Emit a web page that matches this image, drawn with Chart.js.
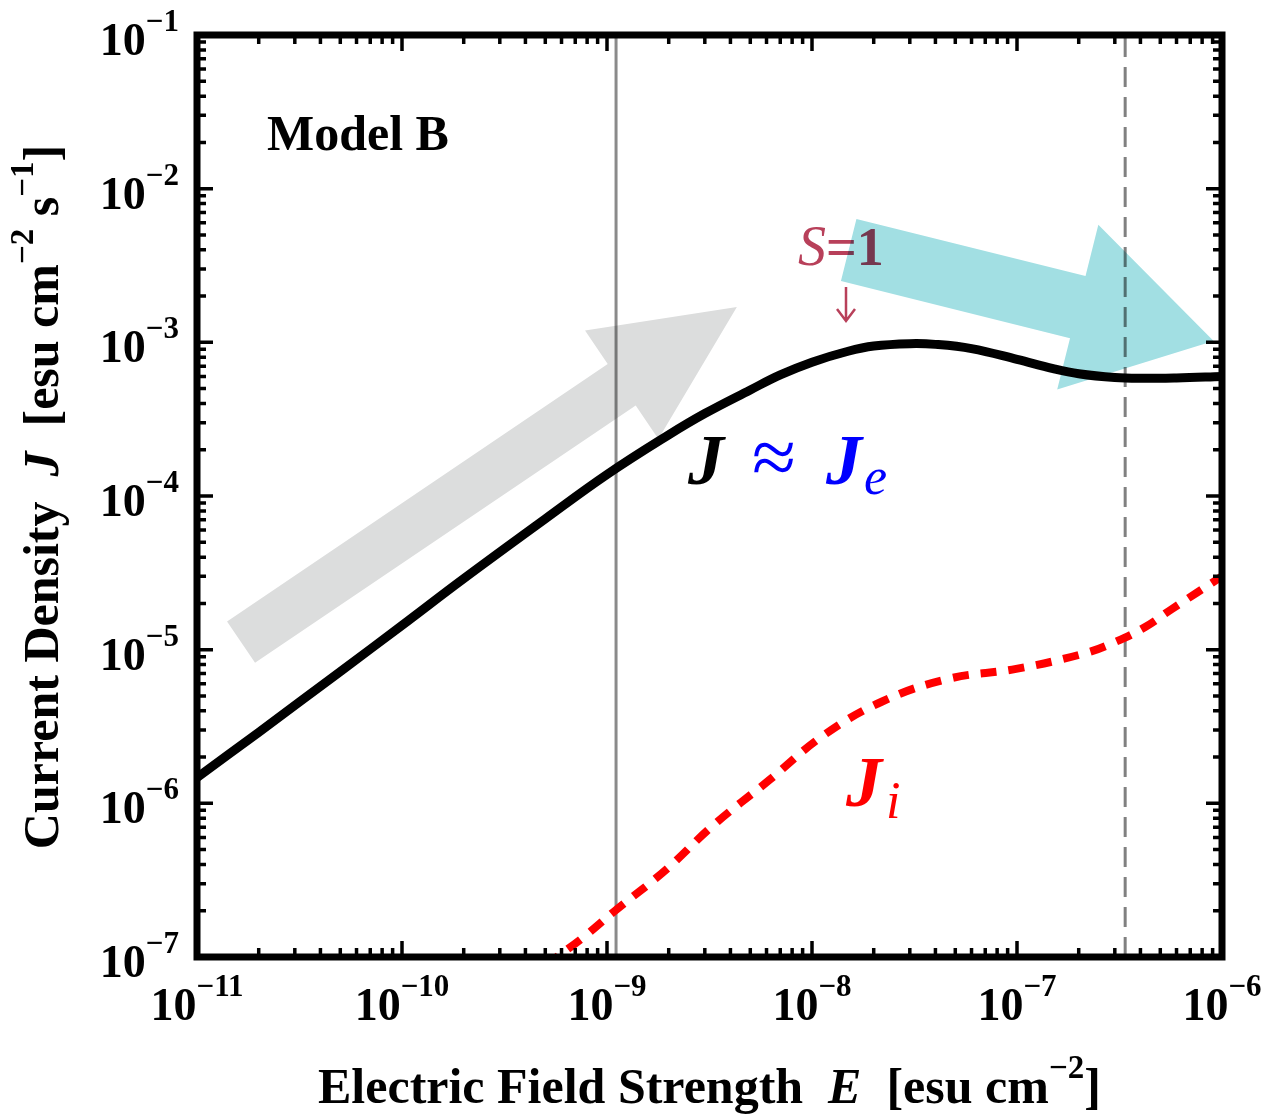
<!DOCTYPE html>
<html>
<head>
<meta charset="utf-8">
<script src="https://cdn.jsdelivr.net/npm/chart.js@4.4.1/dist/chart.umd.min.js"></script>
<style>
  html, body { margin: 0; padding: 0; background: #fff; }
  #wrap { width: 1272px; height: 1115px; }
</style>
</head>
<body>
<div id="wrap"><canvas id="current-chart" width="1272" height="1115"></canvas></div>
<script>
// Electric field strength samples and total current density J
const fieldE = [1e-11, 2e-11, 5e-11, 1e-10, 2e-10, 5e-10, 1e-9, 2e-9, 3e-9, 5e-9, 7e-9,
                1e-8, 1.5e-8, 2e-8, 3e-8, 4e-8, 6e-8, 1e-7, 1.5e-7, 2e-7, 3e-7, 4e-7, 6e-7, 1e-6];
const currentJ = [1.47e-6, 2.9e-6, 7.2e-6, 1.44e-5, 2.9e-5, 7.1e-5, 1.38e-4, 2.5e-4, 3.44e-4, 4.9e-4, 6.14e-4,
                  7.43e-4, 8.75e-4, 9.46e-4, 9.8e-4, 9.7e-4, 9.1e-4, 7.75e-4, 6.75e-4, 6.25e-4, 5.9e-4, 5.83e-4, 5.87e-4, 6.0e-4];

// Ion current J_i
const fieldEi = [5e-10, 7.7e-10, 1.08e-9, 1.94e-9, 3.3e-9, 6.2e-9, 1.13e-8, 2.2e-8, 4.6e-8,
                 9.9e-8, 2.1e-7, 3.0e-7, 4.2e-7, 5.7e-7, 1e-6];
const currentJi = [8.8e-8, 1.35e-7, 1.97e-7, 3.7e-7, 7.2e-7, 1.42e-6, 2.75e-6, 4.6e-6, 6.45e-6,
                   7.5e-6, 9.4e-6, 1.12e-5, 1.4e-5, 1.84e-5, 3.0e-5];

// Vertical marker lines
const solidMarkE = 1.107e-9;
const dashedMarkE = 3.37e-7;

// Axis ranges / tick exponents
const xTickExps = [-11, -10, -9, -8, -7, -6];
const yTickExps = [-7, -6, -5, -4, -3, -2, -1];

// Annotation arrows (data space endpoints)
const grayArrow = { from: [1.64e-11, 1.12e-5], to: [4.3e-9, 1.7e-3] };
const cyanArrow = { from: [1.51e-8, 3.99e-3], to: [9.1e-7, 1.02e-3] };

const SERIF = '"Liberation Serif", "Times New Roman", serif';

function toPoints(xs, ys) {
    return xs.map((x, i) => ({ x: x, y: ys[i] }));
}

function vLine(xv) {
    return [{ x: xv, y: Math.pow(10, yTickExps[0]) }, { x: xv, y: Math.pow(10, yTickExps[yTickExps.length - 1]) }];
}

function drawArrow(ctx, x0, y0, x1, y1, w, hw, hl, color) {
    const len = Math.hypot(x1 - x0, y1 - y0);
    const ux = (x1 - x0) / len, uy = (y1 - y0) / len;
    const nx = -uy, ny = ux;
    const bx = x1 - ux * hl, by = y1 - uy * hl;
    ctx.save();
    ctx.globalCompositeOperation = "multiply";
    ctx.fillStyle = color;
    ctx.beginPath();
    ctx.moveTo(x0 + nx * w / 2, y0 + ny * w / 2);
    ctx.lineTo(bx + nx * w / 2, by + ny * w / 2);
    ctx.lineTo(bx + nx * hw / 2, by + ny * hw / 2);
    ctx.lineTo(x1, y1);
    ctx.lineTo(bx - nx * hw / 2, by - ny * hw / 2);
    ctx.lineTo(bx - nx * w / 2, by - ny * w / 2);
    ctx.lineTo(x0 - nx * w / 2, y0 - ny * w / 2);
    ctx.closePath();
    ctx.fill();
    ctx.restore();
}

// "10" with a superscript exponent
function drawPow(ctx, exp, x, y, align) {
    const base = "10";
    const sup = "\u2212" + Math.abs(exp);
    ctx.font = "bold 46px " + SERIF;
    const wb = ctx.measureText(base).width;
    ctx.font = "bold 31px " + SERIF;
    const ws = ctx.measureText(sup).width;
    const x0 = align === "center" ? x - (wb + ws) / 2 : x - (wb + ws);
    ctx.textAlign = "left";
    ctx.textBaseline = "alphabetic";
    ctx.font = "bold 46px " + SERIF;
    ctx.fillText(base, x0, y);
    ctx.font = "bold 31px " + SERIF;
    ctx.fillText(sup, x0 + wb, y - 24);
}

// Draw a run of text pieces [text, font, dy, color]
function drawRuns(ctx, runs, x, y) {
    let cx = x;
    runs.forEach(r => {
        ctx.font = r[1];
        ctx.fillStyle = r[3] || "#000";
        ctx.fillText(r[0], cx, y + (r[2] || 0));
        cx += ctx.measureText(r[0]).width;
    });
    return cx - x;
}

function measureRuns(ctx, runs) {
    let w = 0;
    runs.forEach(r => { ctx.font = r[1]; w += ctx.measureText(r[0]).width; });
    return w;
}

const decorPlugin = {
    id: "decor",
    afterDatasetsDraw(chart) {
        const ctx = chart.ctx;
        const xs = chart.scales.x, ys = chart.scales.y;

        // labels inside the plot
        ctx.save();
        ctx.textBaseline = "alphabetic";
        ctx.textAlign = "left";
        ctx.fillStyle = "#000";
        ctx.font = "bold 50px " + SERIF;
        ctx.fillText("Model B", 267, 150);

        const sCol = "#b8405a";
        drawRuns(ctx, [["S", "italic 56px " + SERIF, 0, sCol], ["=1", "bold 54px " + SERIF, 0, sCol]], 798, 265);
        ctx.strokeStyle = sCol;
        ctx.lineWidth = 2.5;
        ctx.beginPath();
        ctx.moveTo(846, 287); ctx.lineTo(846, 321);
        ctx.moveTo(837, 309); ctx.lineTo(846, 321); ctx.lineTo(855, 309);
        ctx.stroke();

        // J ≈ J_e
        ctx.font = "bold italic 72px " + SERIF;
        ctx.fillStyle = "#000";
        ctx.fillText("J", 688, 484);
        ctx.font = "80px " + SERIF;
        ctx.fillStyle = "#0000ff";
        ctx.fillText("\u2248", 752, 484);
        ctx.font = "bold italic 72px " + SERIF;
        ctx.fillText("J", 826, 484);
        ctx.font = "italic 52px " + SERIF;
        ctx.fillText("e", 864, 494);

        // J_i
        ctx.fillStyle = "#ff0000";
        ctx.font = "bold italic 72px " + SERIF;
        ctx.fillText("J", 846, 806);
        ctx.font = "italic 52px " + SERIF;
        ctx.fillText("i", 886, 818);
        ctx.restore();

        // arrows
        drawArrow(ctx,
            xs.getPixelForValue(grayArrow.from[0]), ys.getPixelForValue(grayArrow.from[1]),
            xs.getPixelForValue(grayArrow.to[0]), ys.getPixelForValue(grayArrow.to[1]),
            50, 131, 139, "#dcdddd");
        drawArrow(ctx,
            xs.getPixelForValue(cyanArrow.from[0]), ys.getPixelForValue(cyanArrow.from[1]),
            xs.getPixelForValue(cyanArrow.to[0]), ys.getPixelForValue(cyanArrow.to[1]),
            64, 170, 140, "#a2dfe3");
    },
    afterDraw(chart) {
        const ctx = chart.ctx;
        const xs = chart.scales.x, ys = chart.scales.y;
        const a = chart.chartArea;
        ctx.save();
        ctx.strokeStyle = "#000";
        ctx.fillStyle = "#000";

        // ticks on all four sides
        ctx.lineWidth = 3.5;
        ctx.beginPath();
        for (let d = xTickExps[0]; d <= xTickExps[xTickExps.length - 1]; d++) {
            for (let k = 1; k <= 9; k++) {
                if (d === xTickExps[xTickExps.length - 1] && k > 1) break;
                const px = xs.getPixelForValue(k * Math.pow(10, d));
                const len = k === 1 ? 16 : 9;
                ctx.moveTo(px, a.bottom); ctx.lineTo(px, a.bottom - len);
                ctx.moveTo(px, a.top); ctx.lineTo(px, a.top + len);
            }
        }
        for (let d = yTickExps[0]; d <= yTickExps[yTickExps.length - 1]; d++) {
            for (let k = 1; k <= 9; k++) {
                if (d === yTickExps[yTickExps.length - 1] && k > 1) break;
                const py = ys.getPixelForValue(k * Math.pow(10, d));
                const len = k === 1 ? 16 : 9;
                ctx.moveTo(a.left, py); ctx.lineTo(a.left + len, py);
                ctx.moveTo(a.right, py); ctx.lineTo(a.right - len, py);
            }
        }
        ctx.stroke();

        // frame
        ctx.lineWidth = 7;
        ctx.strokeRect(a.left, a.top, a.right - a.left, a.bottom - a.top);

        // tick labels
        xTickExps.forEach(e => drawPow(ctx, e, xs.getPixelForValue(Math.pow(10, e)), a.bottom + 63, "center"));
        yTickExps.forEach(e => drawPow(ctx, e, a.left - 18, ys.getPixelForValue(Math.pow(10, e)) + 20, "right"));

        // axis titles
        const fB = "bold 50px " + SERIF, fBI = "bold italic 50px " + SERIF, fS = "bold 33px " + SERIF;
        const xRuns = [["Electric Field Strength  ", fB], ["E", fBI], ["  [esu cm", fB], ["\u22122", fS, -25], ["]", fB]];
        ctx.textAlign = "left";
        ctx.textBaseline = "alphabetic";
        drawRuns(ctx, xRuns, 318, 1103);

        const yRuns = [["Current Density  ", fB], ["J", fBI], ["  [esu cm", fB], ["\u22122", fS, -25], [" s", fB], ["\u22121", fS, -25], ["]", fB]];
        const yw = measureRuns(ctx, yRuns);
        ctx.translate(58, 497);
        ctx.rotate(-Math.PI / 2);
        drawRuns(ctx, yRuns, -yw / 2, 0);
        ctx.restore();
    }
};

const ctx = document.getElementById("current-chart").getContext("2d");
new Chart(ctx, {
    type: "line",
    data: {
        datasets: [
            {
                label: "J",
                data: toPoints(fieldE, currentJ),
                borderColor: "#000",
                borderWidth: 9,
                pointRadius: 0,
                tension: 0.4,
                clip: 0
            },
            {
                label: "J_i",
                data: toPoints(fieldEi, currentJi),
                borderColor: "#ff0000",
                borderWidth: 8,
                borderDash: [16, 12],
                pointRadius: 0,
                tension: 0.4,
                clip: 0
            },
            {
                label: "solid marker",
                data: vLine(solidMarkE),
                borderColor: "#8a8a8a",
                borderWidth: 3,
                pointRadius: 0,
                clip: 0
            },
            {
                label: "dashed marker",
                data: vLine(dashedMarkE),
                borderColor: "#808080",
                borderWidth: 3,
                borderDash: [20, 10],
                pointRadius: 0,
                clip: 0
            }
        ]
    },
    options: {
        responsive: false,
        animation: false,
        events: [],
        layout: { padding: { left: 197, right: 50, top: 35, bottom: 158 } },
        plugins: { legend: { display: false }, tooltip: { enabled: false } },
        scales: {
            x: {
                type: "logarithmic",
                min: Math.pow(10, xTickExps[0]),
                max: Math.pow(10, xTickExps[xTickExps.length - 1]),
                display: false
            },
            y: {
                type: "logarithmic",
                min: Math.pow(10, yTickExps[0]),
                max: Math.pow(10, yTickExps[yTickExps.length - 1]),
                display: false
            }
        }
    },
    plugins: [decorPlugin]
});
</script>
</body>
</html>
